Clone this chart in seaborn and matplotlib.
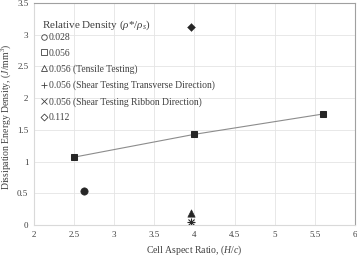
import matplotlib
matplotlib.use("Agg")
import matplotlib.pyplot as plt
import seaborn as sns
import pandas as pd
from matplotlib.lines import Line2D

sns.set_style("white")
plt.rcParams['font.family'] = ['Liberation Serif', 'DejaVu Serif']
plt.rcParams['mathtext.fontset'] = 'custom'
plt.rcParams['mathtext.rm'] = 'Liberation Serif'
plt.rcParams['mathtext.it'] = 'Liberation Serif:italic'

# data
sq_x = [2.5, 4.0, 5.6]
sq_y = [1.07, 1.43, 1.75]
circ_x = [2.63]
circ_y = [0.54]
tri_x = [3.96]
tri_y = [0.19]
plus_x = [3.96]
plus_y = [0.05]
star_x = [3.96]
star_y = [0.05]
dia_x = [3.96]
dia_y = [3.13]

legend_title = r"Relative Density ($\rho$*/$\rho_s$)"
legend_labels = ["0.028", "0.056", "0.056 (Tensile Testing)",
                 "0.056 (Shear Testing Transverse Direction)",
                 "0.056 (Shear Testing Ribbon Direction)", "0.112"]
x_ticks = [2, 2.5, 3, 3.5, 4, 4.5, 5, 5.5, 6]
y_ticks = [0, 0.5, 1, 1.5, 2, 2.5, 3, 3.5]

fig = plt.figure(figsize=(3.57, 2.56), dpi=100)
ax = fig.add_axes([0.095, 0.121, 0.899, 0.867])

mk = '#262626'
sq_df = pd.DataFrame({'x': sq_x, 'y': sq_y})
sns.lineplot(data=sq_df, x='x', y='y', ax=ax, color='#8c8c8c', linewidth=0.8,
             marker='s', markersize=5, markerfacecolor=mk, markeredgecolor=mk)
sns.scatterplot(x=circ_x, y=circ_y, ax=ax, marker='o', s=28, color=mk, edgecolor=mk)
sns.scatterplot(x=tri_x, y=tri_y, ax=ax, marker='^', s=28, color=mk, edgecolor=mk)
sns.scatterplot(x=dia_x, y=dia_y, ax=ax, marker='D', s=16, color=mk, edgecolor=mk)
ax.plot(plus_x, plus_y, linestyle='none', marker='+', markersize=6, color=mk, markeredgewidth=0.8)
ax.plot(star_x, star_y, linestyle='none', marker='x', markersize=5, color=mk, markeredgewidth=0.8)

ax.set_xlim(2, 6)
ax.set_ylim(0, 3.5)
ax.set_xticks(x_ticks)
ax.set_xticklabels([f"{t:g}" for t in x_ticks])
ax.set_yticks(y_ticks)
ax.set_yticklabels([f"{t:g}" for t in y_ticks])
ax.tick_params(labelsize=6.5, colors='#404040', length=0, pad=4)
ax.grid(True, color='#e4e4e4', linewidth=0.6)
ax.set_axisbelow(True)
for s in ['top', 'right']:
    ax.spines[s].set_color('#a0a0a0')
    ax.spines[s].set_linewidth(0.8)
for s in ['left', 'bottom']:
    ax.spines[s].set_color('#d9d9d9')
    ax.spines[s].set_linewidth(0.8)

ax.set_xlabel(r"Cell Aspect Ratio, ($H/c$)", fontsize=7, color='#404040')
ax.xaxis.set_label_coords(0.5, -0.085)
ax.set_ylabel(r"Dissipation Energy Density, ($J$/mm$^3$)", fontsize=7, color='#404040')
ax.yaxis.set_label_coords(-0.066, 0.49)

ax.text(0.025, 0.90, legend_title, transform=ax.transAxes, fontsize=8,
        color='#404040', va='center', ha='left')

markers = ['o', 's', '^', '+', 'x', 'D']
sizes = [4, 4, 4, 5, 4, 3.5]
handles = [Line2D([], [], linestyle='none', marker=m, markersize=sz, markerfacecolor='none',
                  markeredgecolor='#404040', markeredgewidth=0.6, color='#404040')
           for m, sz in zip(markers, sizes)]
leg = ax.legend(handles, legend_labels, loc='upper left', bbox_to_anchor=(0.022, 0.865),
                frameon=False, fontsize=6.9, handlelength=0.6, handletextpad=0.2,
                labelspacing=0.7, borderaxespad=0.0, borderpad=0.0)
for t in leg.get_texts():
    t.set_color('#404040')

fig.savefig("out.png", dpi=100)
